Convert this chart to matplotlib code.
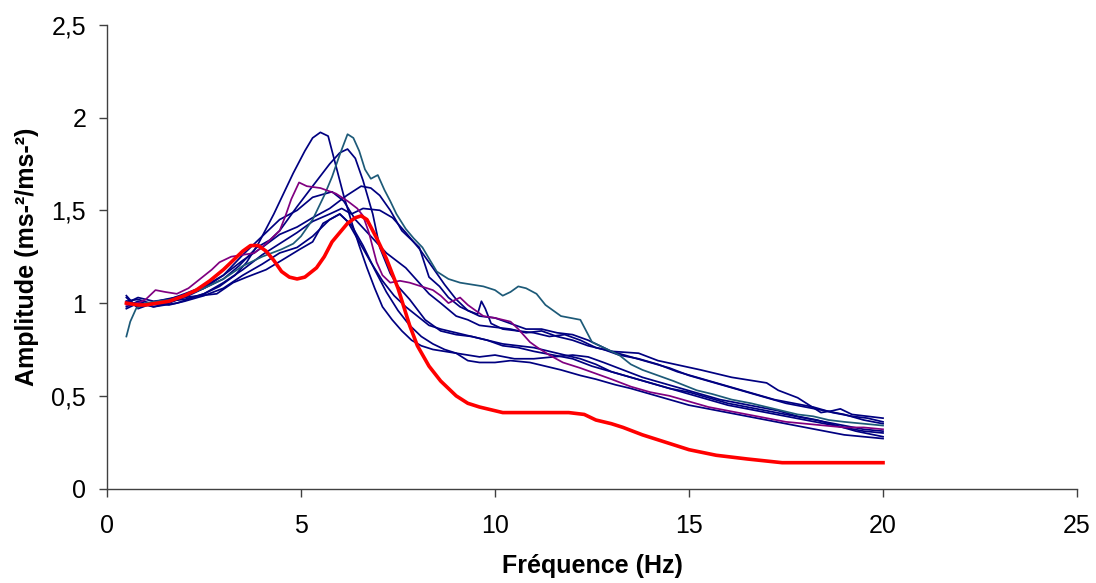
import matplotlib
matplotlib.use('Agg')
import matplotlib.pyplot as plt
from matplotlib.ticker import FuncFormatter

plt.rcParams['font.family'] = ['Liberation Sans', 'DejaVu Sans']

# --- measured spectra (frequency in Hz, amplitude ratio)
x_n1 = [0.5,0.7,0.9,1.2,1.5,1.8,2.1,2.5,2.9,3.3,3.6,3.9,4.3,4.8,5.1,5.3,5.5,5.7,5.9,6.1,6.3,6.5,6.7,6.9,7.1,7.35,7.6,7.85,8.1,8.4,8.7,9.0,9.3,9.6,10.0,10.4,10.9,11.3,11.7,12.2,12.6,13.1,13.5,14.0,14.5,15.0,15.5,16.0,16.5,17.0,17.5,18.0,18.5,19.0,19.5,20.0]
y_n1 = [1.03,0.99,1.00,0.98,0.99,1.00,1.02,1.05,1.09,1.15,1.22,1.32,1.48,1.70,1.82,1.89,1.92,1.90,1.74,1.58,1.44,1.31,1.19,1.08,0.98,0.91,0.85,0.80,0.77,0.75,0.74,0.73,0.69,0.68,0.68,0.69,0.68,0.66,0.64,0.61,0.59,0.56,0.54,0.51,0.48,0.45,0.43,0.41,0.39,0.37,0.35,0.33,0.31,0.29,0.28,0.27]

x_n2 = [0.5,0.8,1.1,1.5,2.0,2.5,3.0,3.4,3.86,4.2,4.45,4.9,5.3,5.74,6.0,6.2,6.4,6.6,6.85,7.03,7.3,7.5,7.8,8.2,8.6,9.0,9.4,9.8,10.2,10.6,11.0,11.5,12.0,12.5,13.0,13.5,14.0,14.5,15.0,15.5,16.0,16.5,17.0,17.5,18.0,18.5,19.0,19.5,20.0]
y_n2 = [1.01,1.02,1.00,1.02,1.04,1.08,1.13,1.20,1.30,1.34,1.39,1.52,1.63,1.75,1.81,1.83,1.78,1.66,1.48,1.30,1.16,1.09,1.02,0.91,0.85,0.83,0.82,0.80,0.77,0.76,0.74,0.72,0.70,0.66,0.63,0.60,0.57,0.54,0.52,0.49,0.46,0.44,0.42,0.40,0.38,0.36,0.34,0.32,0.31]

x_n3 = [0.5,0.8,1.2,1.6,2.0,2.5,3.0,3.5,4.0,4.45,4.9,5.3,5.74,6.18,6.55,6.8,7.03,7.3,7.6,8.05,8.3,8.57,8.8,9.1,9.4,9.6,10.0,10.4,10.8,11.2,11.6,12.0,12.4,13.0,13.7,14.2,15.3,16.1,17.0,17.3,17.8,18.4,18.7,18.9,19.2,19.6,20.0]
y_n3 = [1.00,1.03,1.01,1.02,1.05,1.09,1.15,1.23,1.30,1.37,1.41,1.46,1.51,1.58,1.63,1.62,1.58,1.50,1.39,1.30,1.14,1.09,1.03,0.98,0.95,0.93,0.92,0.89,0.86,0.86,0.84,0.83,0.80,0.74,0.73,0.69,0.64,0.60,0.57,0.53,0.49,0.41,0.42,0.43,0.40,0.39,0.38]

x_n4 = [0.5,0.8,1.1,1.5,2.0,2.5,3.0,3.5,4.0,4.45,4.9,5.3,5.8,6.1,6.4,6.8,7.2,7.7,8.0,8.3,8.6,9.0,9.3,9.6,10.0,10.4,10.8,11.2,11.6,12.0,12.4,12.8,13.2,13.7,14.2,14.7,15.2,15.7,16.2,16.7,17.2,17.7,18.2,18.7,19.2,19.6,20.0]
y_n4 = [0.98,1.01,0.99,1.00,1.03,1.08,1.15,1.26,1.36,1.45,1.50,1.57,1.60,1.55,1.45,1.36,1.27,1.19,1.12,1.05,1.00,0.93,0.91,0.88,0.87,0.86,0.84,0.85,0.82,0.80,0.77,0.75,0.72,0.70,0.67,0.63,0.60,0.57,0.54,0.51,0.48,0.46,0.44,0.41,0.39,0.38,0.36]

x_n5 = [0.5,0.8,1.1,1.5,2.0,2.5,3.0,3.5,4.0,4.45,4.9,5.3,5.74,6.05,6.3,6.6,7.03,7.36,7.7,8.06,8.4,8.7,9.0,9.3,9.55,9.65,9.75,9.9,10.2,10.6,11.0,11.4,11.8,12.2,12.6,13.0,13.5,14.0,14.5,15.0,15.5,16.0,16.5,17.0,17.5,18.0,18.5,19.0,19.5,20.0]
y_n5 = [1.01,0.98,1.00,1.01,1.02,1.05,1.11,1.18,1.26,1.32,1.38,1.44,1.48,1.51,1.48,1.51,1.50,1.46,1.38,1.29,1.19,1.10,1.02,0.96,0.94,1.01,0.97,0.89,0.86,0.85,0.84,0.82,0.83,0.80,0.76,0.74,0.71,0.68,0.65,0.61,0.58,0.55,0.52,0.49,0.46,0.44,0.42,0.40,0.37,0.35]

x_n6 = [0.5,0.8,1.2,1.6,2.0,2.5,3.0,3.5,4.0,4.45,4.9,5.3,5.74,6.0,6.2,6.5,6.8,7.1,7.4,7.7,8.0,8.3,8.6,9.0,9.4,9.8,10.2,10.6,11.0,11.4,11.8,12.2,12.6,13.0,13.5,14.0,14.5,15.0,15.5,16.0,16.5,17.0,17.5,18.0,18.5,19.0,19.5,20.0]
y_n6 = [1.04,0.97,1.00,0.99,1.01,1.04,1.08,1.15,1.21,1.27,1.30,1.36,1.45,1.48,1.44,1.33,1.22,1.12,1.04,0.98,0.93,0.88,0.86,0.84,0.82,0.80,0.78,0.77,0.76,0.74,0.72,0.70,0.67,0.63,0.60,0.57,0.54,0.51,0.48,0.45,0.43,0.41,0.39,0.37,0.35,0.33,0.31,0.30]

x_n7 = [0.5,0.8,1.2,1.6,1.96,2.4,2.83,3.25,3.6,4.1,4.5,4.97,5.3,5.57,6.0,6.3,6.6,6.9,7.2,7.5,7.8,8.1,8.4,8.7,9.0,9.3,9.6,10.0,10.5,11.0,11.5,12.0,12.4,12.8,13.3,13.8,14.3,14.8,15.3,15.8,16.3,16.8,17.3,17.8,18.3,18.8,19.3,20.0]
y_n7 = [0.97,1.00,0.98,1.00,1.03,1.04,1.05,1.11,1.14,1.18,1.23,1.29,1.33,1.43,1.48,1.42,1.31,1.18,1.06,0.96,0.88,0.82,0.78,0.75,0.73,0.72,0.71,0.72,0.70,0.70,0.71,0.72,0.71,0.68,0.64,0.60,0.57,0.54,0.51,0.48,0.46,0.44,0.42,0.39,0.37,0.34,0.31,0.28]

x_teal = [0.5,0.6,0.75,1.0,1.3,1.7,2.0,2.5,3.0,3.5,4.0,4.5,4.8,5.0,5.3,5.6,5.8,6.0,6.2,6.35,6.5,6.65,6.8,6.98,7.15,7.3,7.46,7.7,7.9,8.13,8.3,8.5,8.8,9.1,9.4,9.7,10.0,10.2,10.4,10.6,10.8,11.07,11.3,11.7,12.2,12.35,12.5,12.9,13.2,13.5,13.8,14.2,14.6,15.2,15.6,16.1,16.6,17.0,17.4,17.8,18.2,18.6,19.0,19.5,20.0]
y_teal = [0.82,0.90,0.97,1.00,1.01,1.02,1.04,1.08,1.13,1.20,1.25,1.29,1.32,1.36,1.45,1.58,1.68,1.80,1.91,1.89,1.82,1.72,1.67,1.69,1.61,1.55,1.48,1.40,1.35,1.30,1.24,1.17,1.13,1.11,1.10,1.09,1.07,1.04,1.06,1.09,1.08,1.05,0.99,0.93,0.91,0.85,0.79,0.75,0.72,0.67,0.64,0.61,0.58,0.53,0.51,0.48,0.46,0.44,0.42,0.40,0.39,0.37,0.36,0.35,0.34]

x_purple = [0.5,0.8,1.0,1.25,1.5,1.8,2.1,2.4,2.7,2.9,3.2,3.5,3.8,4.1,4.45,4.6,4.75,4.95,5.15,5.5,5.9,6.2,6.45,6.6,6.75,6.95,7.1,7.3,7.55,7.8,8.1,8.4,8.6,8.8,9.0,9.1,9.3,9.5,9.7,10.0,10.2,10.4,10.6,10.9,11.1,11.4,11.75,12.2,12.6,13.0,13.5,14.0,14.5,15.0,15.5,16.0,16.5,17.0,17.5,18.0,18.5,19.0,19.5,20.0]
y_purple = [0.99,1.00,1.02,1.07,1.06,1.05,1.08,1.13,1.18,1.22,1.25,1.26,1.27,1.32,1.39,1.47,1.56,1.65,1.63,1.62,1.59,1.55,1.51,1.47,1.38,1.22,1.15,1.11,1.12,1.11,1.09,1.07,1.04,1.00,1.02,1.03,0.99,0.96,0.93,0.92,0.91,0.90,0.86,0.79,0.76,0.72,0.68,0.65,0.62,0.59,0.55,0.52,0.50,0.47,0.44,0.42,0.40,0.38,0.36,0.35,0.34,0.33,0.33,0.32]

x_red = [0.5,0.8,1.0,1.3,1.6,2.0,2.3,2.65,3.0,3.25,3.5,3.7,3.9,4.1,4.3,4.5,4.7,4.9,5.1,5.4,5.6,5.8,6.0,6.2,6.4,6.55,6.7,6.95,7.2,7.5,7.8,8.0,8.3,8.6,9.0,9.3,9.6,10.0,10.2,11.0,11.9,12.3,12.6,13.0,13.3,13.8,14.4,15.0,15.7,16.5,17.4,18.0,19.0,20.0]
y_red = [1.00,0.99,0.99,1.00,1.01,1.04,1.07,1.12,1.18,1.23,1.28,1.31,1.31,1.28,1.23,1.17,1.14,1.13,1.14,1.19,1.25,1.33,1.38,1.43,1.46,1.47,1.45,1.35,1.24,1.08,0.88,0.77,0.66,0.58,0.50,0.46,0.44,0.42,0.41,0.41,0.41,0.40,0.37,0.35,0.33,0.29,0.25,0.21,0.18,0.16,0.14,0.14,0.14,0.14]

y_ticks = [0, 0.5, 1, 1.5, 2, 2.5]
x_ticks = [0, 5, 10, 15, 20, 25]

navy = '#000080'

fig = plt.figure(figsize=(10.96, 5.83), dpi=100)
ax = fig.add_axes((0.0976, 0.1618, 0.8851, 0.7958))

for xs, ys in [(x_n1, y_n1), (x_n2, y_n2), (x_n3, y_n3), (x_n4, y_n4),
               (x_n5, y_n5), (x_n6, y_n6), (x_n7, y_n7)]:
    ax.plot(xs, ys, color=navy, lw=1.25)
ax.plot(x_teal, y_teal, color='#1d5a78', lw=1.25)
ax.plot(x_purple, y_purple, color='#800080', lw=1.25)
ax.plot(x_red, y_red, color='#ff0000', lw=2.6)

ax.set_xlim(0, 25)
ax.set_ylim(0, 2.5)
ax.set_xticks(x_ticks)
ax.set_yticks(y_ticks)
ax.yaxis.set_major_formatter(FuncFormatter(lambda v, p: f'{v:g}'.replace('.', ',')))

for s in ['top', 'right']:
    ax.spines[s].set_visible(False)
for s in ['left', 'bottom']:
    ax.spines[s].set_color('#404040')
    ax.spines[s].set_linewidth(1.0)
ax.tick_params(direction='out', length=6, width=1.0, color='#404040',
               labelsize=18)
ax.tick_params(axis='x', pad=12)
ax.tick_params(axis='y', pad=9)

ax.set_xlabel('Fréquence (Hz)', fontsize=18, fontweight='bold', labelpad=12)
ax.set_ylabel('Amplitude (ms-²/ms-²)', fontsize=18, fontweight='bold', labelpad=9)

fig.savefig('out.png', dpi=100)
